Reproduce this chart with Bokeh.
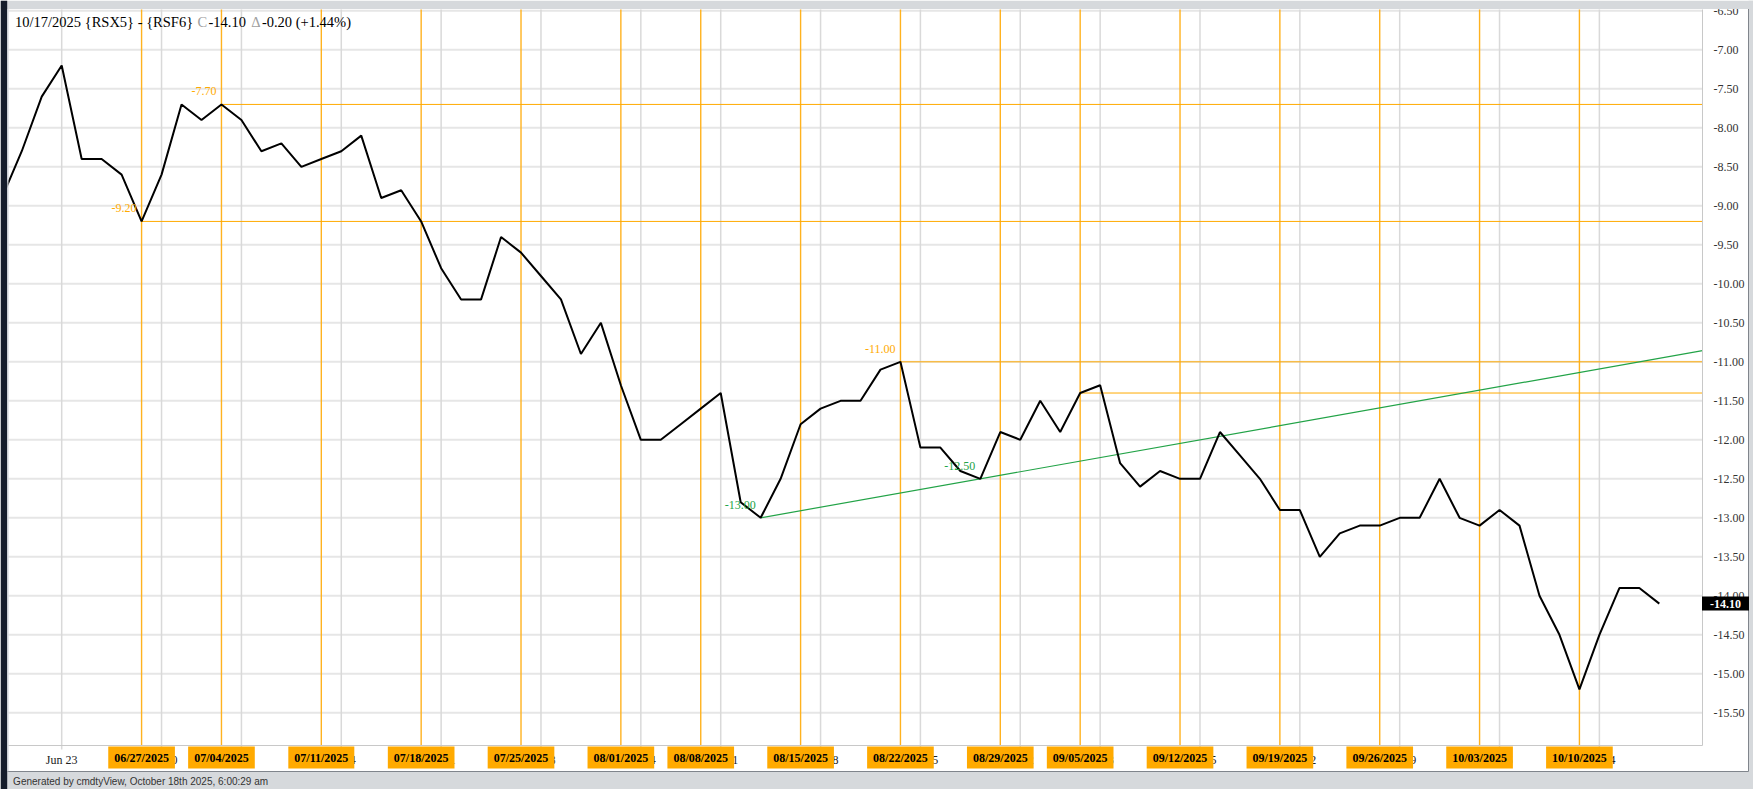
from datetime import date
from bokeh.plotting import figure
from bokeh.models import Range1d, Label
from bokeh.core.properties import value
from bokeh.embed import file_html
from bokeh.resources import INLINE

# ---------------- data ----------------
dates = [
    "2025-06-17", "2025-06-18", "2025-06-20", "2025-06-23", "2025-06-24", "2025-06-25",
    "2025-06-26", "2025-06-27", "2025-06-30", "2025-07-01", "2025-07-02", "2025-07-03",
    "2025-07-07", "2025-07-08", "2025-07-09", "2025-07-10", "2025-07-11", "2025-07-14",
    "2025-07-15", "2025-07-16", "2025-07-17", "2025-07-18", "2025-07-21", "2025-07-22",
    "2025-07-23", "2025-07-24", "2025-07-25", "2025-07-28", "2025-07-29", "2025-07-30",
    "2025-07-31", "2025-08-01", "2025-08-04", "2025-08-05", "2025-08-06", "2025-08-07",
    "2025-08-11", "2025-08-12", "2025-08-13", "2025-08-14", "2025-08-15", "2025-08-18",
    "2025-08-19", "2025-08-20", "2025-08-21", "2025-08-22", "2025-08-25", "2025-08-26",
    "2025-08-27", "2025-08-28", "2025-08-29", "2025-09-02", "2025-09-03", "2025-09-04",
    "2025-09-05", "2025-09-08", "2025-09-09", "2025-09-10", "2025-09-11", "2025-09-12",
    "2025-09-15", "2025-09-16", "2025-09-17", "2025-09-18", "2025-09-19", "2025-09-22",
    "2025-09-23", "2025-09-24", "2025-09-25", "2025-09-26", "2025-09-29", "2025-09-30",
    "2025-10-01", "2025-10-02", "2025-10-03", "2025-10-06", "2025-10-07", "2025-10-08",
    "2025-10-09", "2025-10-10", "2025-10-14", "2025-10-15", "2025-10-16", "2025-10-17",
]
values = [
    -8.90, -8.30, -7.60, -7.20, -8.40, -8.40,
    -8.60, -9.20, -8.60, -7.70, -7.90, -7.70,
    -7.90, -8.30, -8.20, -8.50, -8.40, -8.30,
    -8.10, -8.90, -8.80, -9.20, -9.80, -10.20,
    -10.20, -9.40, -9.60, -9.90, -10.20, -10.90,
    -10.50, -11.30, -12.00, -12.00, -11.80, -11.60,
    -11.40, -12.80, -13.00, -12.50, -11.80, -11.60,
    -11.50, -11.50, -11.10, -11.00, -12.10, -12.10,
    -12.40, -12.50, -11.90, -12.00, -11.50, -11.90,
    -11.40, -11.30, -12.30, -12.60, -12.40, -12.50,
    -12.50, -11.90, -12.20, -12.50, -12.90, -12.90,
    -13.50, -13.20, -13.10, -13.10, -13.00, -13.00,
    -12.50, -13.00, -13.10, -12.90, -13.10, -14.00,
    -14.50, -15.20, -14.50, -13.90, -13.90, -14.10,
]
week_end_labels = [
    "06/27/2025", "07/04/2025", "07/11/2025", "07/18/2025", "07/25/2025", "08/01/2025",
    "08/08/2025", "08/15/2025", "08/22/2025", "08/29/2025", "09/05/2025", "09/12/2025",
    "09/19/2025", "09/26/2025", "10/03/2025", "10/10/2025",
]
level_dates = ["2025-06-27", "2025-07-03", "2025-08-22", "2025-09-05"]
level_values = [-9.20, -7.70, -11.00, -11.40]
level_labelled = [True, True, True, False]
trend_dates = ["2025-08-13", "2025-08-28"]
trend_values = [-13.00, -12.50]
y_tick_min, y_tick_max, y_tick_step = -15.5, -6.5, 0.5
title_date = "10/17/2025"
title_symbol = "{RSX5} - {RSF6}"
last_close = -14.10
net_change = -0.20
pct_change = 1.44
footer_text = "Generated by cmdtyView, October 18th 2025, 6:00:29 am"

# ---------------- derived ----------------
parsed = [date.fromisoformat(d) for d in dates]
xs = list(range(len(values)))
idx_of = {d: i for i, d in enumerate(dates)}

def last_idx_on_or_before(d):
    best = None
    for i, pd_ in enumerate(parsed):
        if pd_ <= d:
            best = i
    return best

week_start_idx, week_start_lab = [], []
prev_week = None
for i, d in enumerate(parsed):
    wk = d.isocalendar()[:2]
    if wk != prev_week:
        week_start_idx.append(i)
        week_start_lab.append(d.strftime("%b ") + str(d.day))
        prev_week = wk

def mdY(s):
    m, d, y = s.split("/")
    return date(int(y), int(m), int(d))

week_end_idx = [last_idx_on_or_before(mdY(s)) for s in week_end_labels]
n_ticks = int(round((y_tick_max - y_tick_min) / y_tick_step)) + 1
y_ticks = [round(y_tick_min + k * y_tick_step, 2) for k in range(n_ticks)]

# ---------------- layout (canvas pixels) ----------------
W, H = 1753, 789
PA_L, PA_R, PA_T, PA_B = 8, 1702, 9, 745          # plot area
X_START, X_END = 0.336, 85.163                    # data x at plot-area edges
Y_MIN, Y_MAX = -15.919, -6.483                    # data y at plot-area edges
kx = (X_END - X_START) / (PA_R - PA_L)
ky = (Y_MAX - Y_MIN) / (PA_B - PA_T)

def cx(px):
    return X_START + (px - PA_L) * kx

def cy(py):
    return Y_MAX - (py - PA_T) * ky

SERIF = "Liberation Serif"
ORANGE = "#ffaa00"
ORANGE_LINE = "#ffb21f"
GREEN = "#22a347"
GRAY_BAND = "#d6d9dc"

p = figure(width=W, height=H, x_range=Range1d(cx(0), cx(W)), y_range=Range1d(cy(H), cy(0)),
           output_backend="svg", toolbar_location=None, title_location=None,
           min_border=0, x_axis_type=None, y_axis_type=None)
p.outline_line_color = None
p.background_fill_color = "white"
p.border_fill_color = "white"
p.grid.visible = False

# horizontal grid (y ticks)
p.segment(x0=[X_START] * len(y_ticks), x1=[X_END] * len(y_ticks), y0=y_ticks, y1=y_ticks,
          line_color="#e6e6e6", line_width=2)

# vertical week-start grid (with small tick below the axis)
ws = [(i, lab) for i, lab in zip(week_start_idx, week_start_lab) if X_START <= i <= X_END]
ws_i = [i for i, _ in ws]
ws_l = [lab for _, lab in ws]
p.segment(x0=ws_i, x1=ws_i, y0=[cy(PA_B + 4)] * len(ws_i), y1=[Y_MAX] * len(ws_i),
          line_color="#d9d9d9", line_width=1.5)

# weekly orange verticals
p.segment(x0=week_end_idx, x1=week_end_idx, y0=[Y_MIN] * len(week_end_idx),
          y1=[Y_MAX] * len(week_end_idx), line_color=ORANGE_LINE, line_width=1.4)

# horizontal level lines from pivots to the right edge
lx = [idx_of[d] for d in level_dates]
p.segment(x0=lx, x1=[X_END] * len(lx), y0=level_values, y1=level_values,
          line_color=ORANGE, line_width=1)

# green trend line through two lows, extended to the right edge
tx = [idx_of[d] for d in trend_dates]
slope = (trend_values[1] - trend_values[0]) / (tx[1] - tx[0])
p.line([tx[0], X_END], [trend_values[0], trend_values[0] + slope * (X_END - tx[0])],
       line_color=GREEN, line_width=1.2)

# price line
p.line(xs, values, line_color="black", line_width=2)

# axis lines
p.segment(x0=[X_END], x1=[X_END], y0=[Y_MIN], y1=[Y_MAX], line_color="#c8c8c8", line_width=1)
p.segment(x0=[X_START], x1=[X_END], y0=[Y_MIN], y1=[Y_MIN], line_color="#c8c8c8", line_width=1)

# y tick labels (right)
p.text(x=[X_END] * len(y_ticks), y=y_ticks, text=[f"{t:.2f}" for t in y_ticks],
       x_offset=11, text_align="left", text_baseline="middle",
       text_font=value(SERIF), text_font_size="12px", text_color="#333333")

# x week labels (bottom)
p.text(x=ws_i, y=[Y_MIN] * len(ws_i), text=ws_l, y_offset=14,
       text_align="center", text_baseline="middle",
       text_font=value(SERIF), text_font_size="12px", text_color="#222222")

# ---- page decorations ----
p.quad(left=[cx(0)], right=[cx(W)], top=[cy(0)], bottom=[cy(8.5)],
       fill_color=GRAY_BAND, line_color=None)
p.quad(left=[cx(0)], right=[cx(W)], top=[cy(771)], bottom=[cy(H)],
       fill_color=GRAY_BAND, line_color=None)
p.quad(left=[cx(1748)], right=[cx(W)], top=[cy(0)], bottom=[cy(H)],
       fill_color=GRAY_BAND, line_color=None)
p.segment(x0=[cx(6.7)], x1=[cx(1748)], y0=[cy(771)], y1=[cy(771)],
          line_color="#80858c", line_width=1)
p.segment(x0=[cx(1748)], x1=[cx(1748)], y0=[cy(8.5)], y1=[cy(771)],
          line_color="#80858c", line_width=1)
p.quad(left=[cx(0)], right=[cx(6.7)], top=[cy(0)], bottom=[cy(H)],
       fill_color="#161d2b", line_color=None)
p.quad(left=[cx(6.7)], right=[cx(PA_L)], top=[cy(8.5)], bottom=[cy(771)],
       fill_color="#c9ccd1", line_color=None)

# pivot labels
for x, v, show in zip(lx, level_values, level_labelled):
    if show:
        p.add_layout(Label(x=x, y=v, text=f"{v:.2f}", text_align="right",
                           text_baseline="middle", x_offset=-5, y_offset=13,
                           text_color=ORANGE, text_font=SERIF, text_font_size="12px"))
for x, v in zip(tx, trend_values):
    p.add_layout(Label(x=x, y=v, text=f"{v:.2f}", text_align="right",
                       text_baseline="middle", x_offset=-5, y_offset=13,
                       text_color=GREEN, text_font=SERIF, text_font_size="12px"))

# bottom orange date boxes
for i, lab in zip(week_end_idx, week_end_labels):
    p.add_layout(Label(x=i, y=Y_MIN, y_offset=-12, text=lab, text_align="center",
                       text_baseline="middle", text_color="black", text_font=SERIF,
                       text_font_size="12px", text_font_style="bold",
                       background_fill_color=ORANGE,
                       padding={"left": 6, "right": 6, "top": 4, "bottom": 4}))

# last value box on the right axis
p.add_layout(Label(x=X_END, y=last_close, x_offset=23, text=f"{last_close:.2f}",
                   text_align="center", text_baseline="middle", text_color="white",
                   text_font=SERIF, text_font_size="12px", text_font_style="bold",
                   background_fill_color="black",
                   padding={"left": 8, "right": 8, "top": 3, "bottom": 3}))

# title pieces
title_parts = [
    (f"{title_date} {title_symbol} ", "black", 14.5),
    ("C", "#a0a0a0", 197),
    (f"{last_close:.2f}", "black", 208),
    ("\u0394", "#a0a0a0", 250.7),
    (f"{net_change:.2f} (+{pct_change:.2f}%)", "black", 261.4),
]
for txt, col, px in title_parts:
    p.add_layout(Label(x=cx(px), y=cy(21.7), text=txt,
                       text_align="left", text_baseline="middle", text_color=col,
                       text_font=SERIF, text_font_size="14.5px"))

# footer text
p.add_layout(Label(x=cx(12.6), y=cy(780.5), text=footer_text,
                   text_align="left", text_baseline="middle", text_color="#333333",
                   text_font="Liberation Sans", text_font_size="10px"))

open("out.html", "w").write(file_html(p, INLINE))
